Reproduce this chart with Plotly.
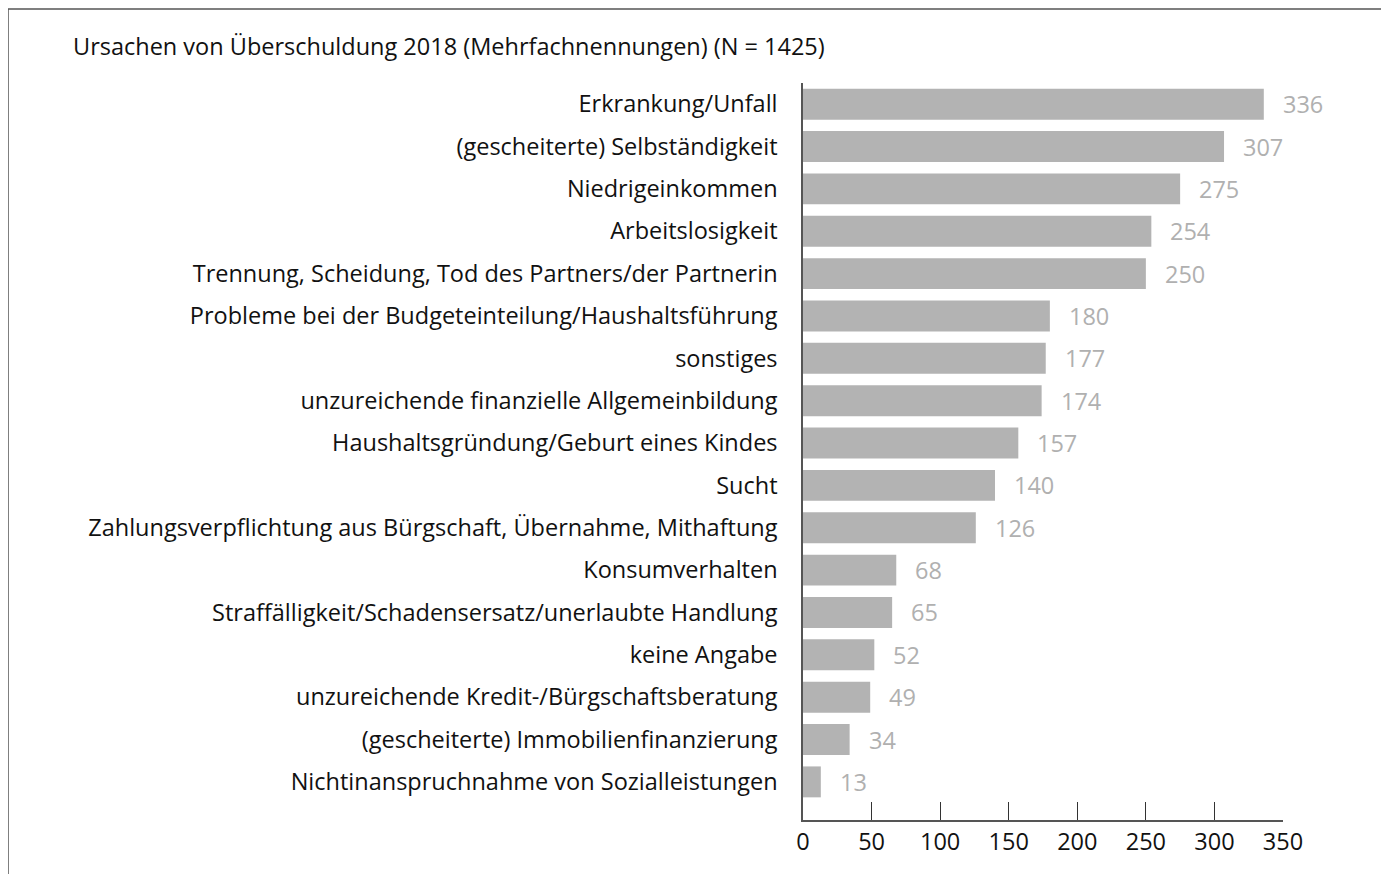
import plotly.graph_objects as go

categories = [
    "Erkrankung/Unfall",
    "(gescheiterte) Selbständigkeit",
    "Niedrigeinkommen",
    "Arbeitslosigkeit",
    "Trennung, Scheidung, Tod des Partners/der Partnerin",
    "Probleme bei der Budgeteinteilung/Haushaltsführung",
    "sonstiges",
    "unzureichende finanzielle Allgemeinbildung",
    "Haushaltsgründung/Geburt eines Kindes",
    "Sucht",
    "Zahlungsverpflichtung aus Bürgschaft, Übernahme, Mithaftung",
    "Konsumverhalten",
    "Straffälligkeit/Schadensersatz/unerlaubte Handlung",
    "keine Angabe",
    "unzureichende Kredit-/Bürgschaftsberatung",
    "(gescheiterte) Immobilienfinanzierung",
    "Nichtinanspruchnahme von Sozialleistungen",
]
values = [336, 307, 275, 254, 250, 180, 177, 174, 157, 140, 126, 68, 65, 52, 49, 34, 13]
x_ticks = [0, 50, 100, 150, 200, 250, 300, 350]
title_text = "Ursachen von Überschuldung 2018 (Mehrfachnennungen) (N = 1425)"

cats_rev = categories[::-1]
vals_rev = values[::-1]

FONT = "Open Sans"
FS = 23.5

# page has an 8px body margin, so the figure is drawn 8px in from the window edge
W, H = 1381, 866
L, T, R, B = 795, 75, 106, 54
PW = W - L - R
PH = H - T - B

fig = go.Figure()
fig.add_trace(go.Bar(
    x=vals_rev, y=cats_rev, orientation="h",
    marker=dict(color="#b3b3b3", line=dict(width=0)),
    hoverinfo="skip",
))

for c, v in zip(cats_rev, vals_rev):
    fig.add_annotation(x=v, y=c, text=str(v), showarrow=False,
                       xanchor="left", xshift=17,
                       font=dict(family=FONT, size=FS, color="#b0b0b0"))

fig.update_layout(
    width=W, height=H,
    margin=dict(l=L, r=R, t=T, b=B),
    paper_bgcolor="white", plot_bgcolor="white",
    bargap=0.27,
    showlegend=False,
    font=dict(family=FONT, size=FS, color="#111111"),
    title=dict(text=title_text, x=65/W, xanchor="left",
               y=1-39/H, yanchor="middle", xref="container", yref="container",
               font=dict(family=FONT, size=FS, color="#111111")),
)
fig.update_xaxes(range=[0, 350], tickvals=x_ticks, showgrid=False, zeroline=False,
                 showline=True, linecolor="#555555", linewidth=1.5,
                 ticks="inside", ticklen=18, tickcolor="#333333", tickwidth=1,
                 tickfont=dict(family=FONT, size=FS, color="#111111"))
fig.update_yaxes(type="category", categoryorder="array", categoryarray=cats_rev,
                 range=[-0.9, 16.5], showgrid=False, zeroline=False,
                 showline=True, linecolor="#555555", linewidth=1.5,
                 ticks="", ticklabelstandoff=19,
                 tickfont=dict(family=FONT, size=FS, color="#111111"))

fig.add_shape(type="rect", xref="paper", yref="paper",
              x0=(0 - L) / PW, x1=(1375 - L) / PW,
              y0=-(H + 20 - (T + PH)) / PH, y1=(T + PH - 1) / PH,
              line=dict(color="#555555", width=1.5), fillcolor="rgba(0,0,0,0)",
              layer="below")

fig.write_html("out.html")
